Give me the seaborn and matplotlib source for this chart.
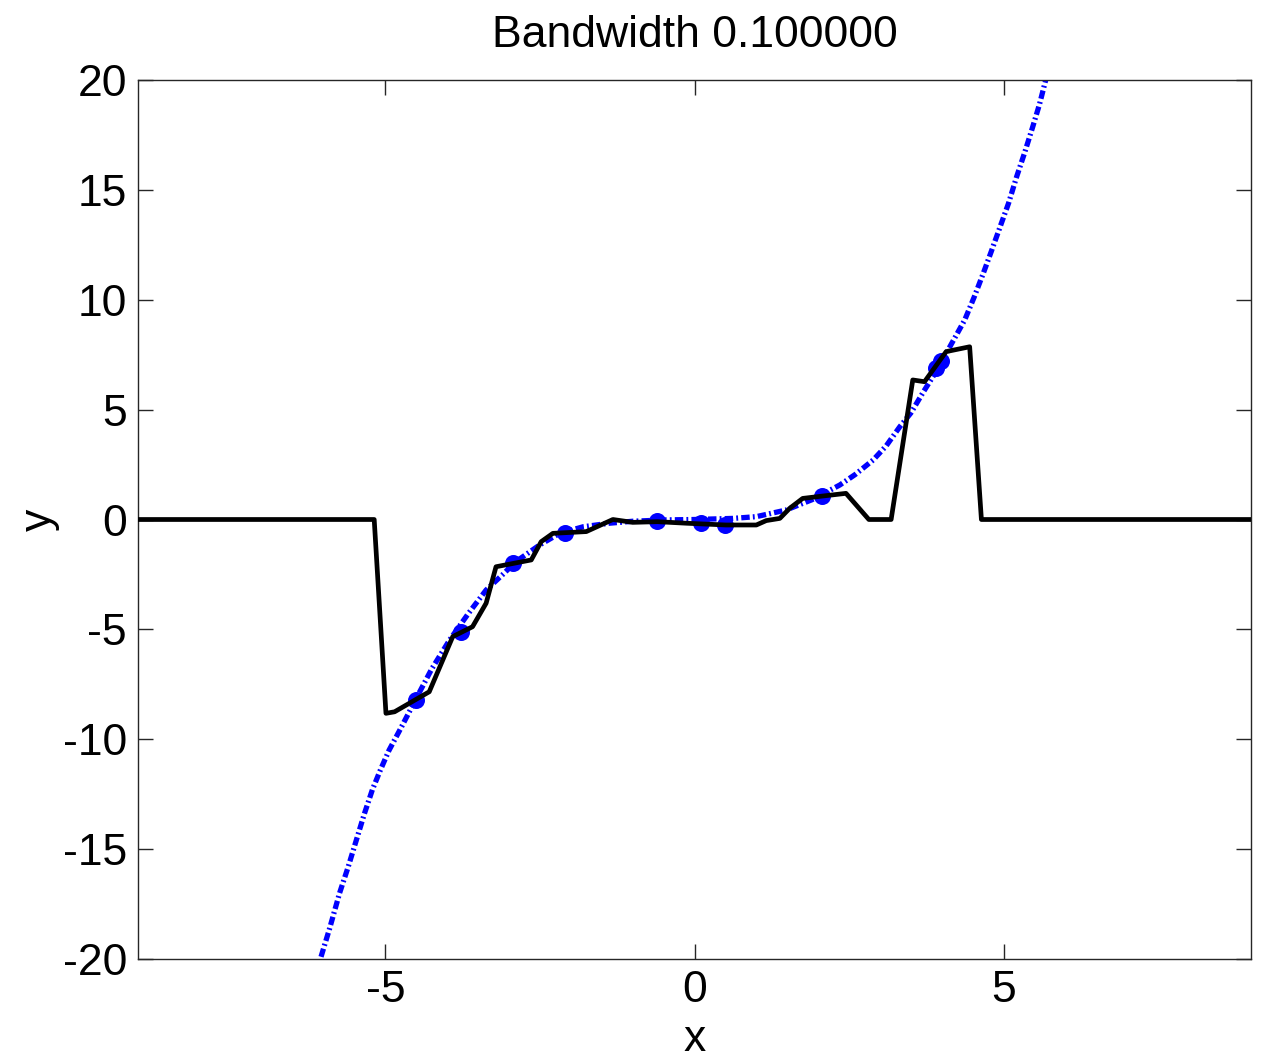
import numpy as np
import pandas as pd
import matplotlib
matplotlib.use("Agg")
import matplotlib.pyplot as plt
import seaborn as sns

# True function (dash-dot blue curve)
curve_x = [-6.04, -5.9, -5.74, -5.6, -5.47, -5.34, -5.21, -5.08, -4.94, -4.75, -4.5, -4.25,
           -3.96, -3.65, -3.37, -3.1, -2.89, -2.5, -2.18, -1.8, -1.38, -1.0, -0.5, 0.0,
           0.62, 1.0, 1.48, 1.9, 2.35, 2.6, 2.89, 3.1, 3.32, 3.5, 3.7, 3.9, 4.10, 4.37,
           4.52, 4.67, 4.8, 4.94, 5.08, 5.21, 5.34, 5.47, 5.58, 5.68]
curve_y = [-19.9, -18.6, -17.0, -15.8, -14.6, -13.4, -12.3, -11.4, -10.5, -9.5, -8.14, -6.8,
           -5.48, -4.25, -3.21, -2.5, -1.92, -1.15, -0.63, -0.33, -0.17, -0.08, -0.02, 0.0,
           0.05, 0.13, 0.43, 0.9, 1.57, 2.05, 2.71, 3.35, 4.22, 4.85, 5.8, 6.7, 7.71, 9.08,
           10.1, 11.2, 12.2, 13.3, 14.4, 15.6, 16.7, 17.87, 18.9, 20.0]

# Kernel regression estimate (black line)
est_x = [-9.0, -5.18, -4.99, -4.85, -4.29, -3.91, -3.59, -3.37, -3.21, -2.64, -2.48, -2.29,
         -1.75, -1.32, -1.0, -0.6, -0.13, 0.51, 1.0, 1.16, 1.38, 1.54, 1.75, 2.08, 2.45,
         2.82, 3.18, 3.53, 3.72, 4.07, 4.45, 4.64, 9.0]
est_y = [0.0, 0.0, -8.82, -8.75, -7.84, -5.33, -4.88, -3.81, -2.15, -1.84, -1.01, -0.63,
         -0.55, 0.0, -0.13, -0.1, -0.17, -0.25, -0.25, -0.05, 0.05, 0.51, 0.96, 1.07, 1.19,
         0.0, 0.0, 6.35, 6.27, 7.64, 7.86, 0.0, 0.0]

# Sample points (blue dots)
pts_x = [-4.5, -3.77, -2.94, -2.10, -0.60, 0.11, 0.50, 2.07, 3.91, 3.99]
pts_y = [-8.21, -5.12, -1.98, -0.61, -0.07, -0.16, -0.25, 1.07, 6.9, 7.2]

title = "Bandwidth 0.100000"

sns.set_style("white")
plt.rcParams['font.family'] = ['Liberation Sans', 'DejaVu Sans']

fig = plt.figure(figsize=(12.66, 10.59), dpi=100)
ax = fig.add_axes([138/1266, 1 - 959/1059, (1251-138)/1266, (959-80)/1059])

df_curve = pd.DataFrame({"x": curve_x, "y": curve_y})
df_est = pd.DataFrame({"x": est_x, "y": est_y})
df_pts = pd.DataFrame({"x": pts_x, "y": pts_y})

sns.lineplot(data=df_curve, x="x", y="y", ax=ax, color="#0000ff", lw=3.8,
             linestyle=(0, (1.6, 0.6, 0.35, 0.6)), sort=False, estimator=None, zorder=2)
sns.scatterplot(data=df_pts, x="x", y="y", ax=ax, color="#0000ff", s=150,
                edgecolor="#0000ff", linewidth=0, zorder=3)
sns.lineplot(data=df_est, x="x", y="y", ax=ax, color="black", lw=3.4,
             sort=False, estimator=None, zorder=4)

ax.set_xlim(-9, 9)
ax.set_ylim(-20, 20)
ax.set_xticks([-5, 0, 5])
ax.set_yticks([-20, -15, -10, -5, 0, 5, 10, 15, 20])
ax.set_xticklabels(["-5", "0", "5"])
ax.set_yticklabels(["-20", "-15", "-10", "-5", "0", "5", "10", "15", "20"])
ax.tick_params(direction="in", length=11, width=1, colors="#262626",
               labelcolor="black", labelsize=32, top=True, right=True,
               bottom=True, left=True, pad=8)
for s in ax.spines.values():
    s.set_visible(True)
    s.set_color("#262626")
    s.set_linewidth(1)

ax.set_xlabel("x", fontsize=32, labelpad=6, color="black")
ax.set_ylabel("y", fontsize=32, labelpad=2, color="black")
ax.set_title(title, fontsize=32, pad=24, color="black")

fig.savefig("out.png", dpi=100)
